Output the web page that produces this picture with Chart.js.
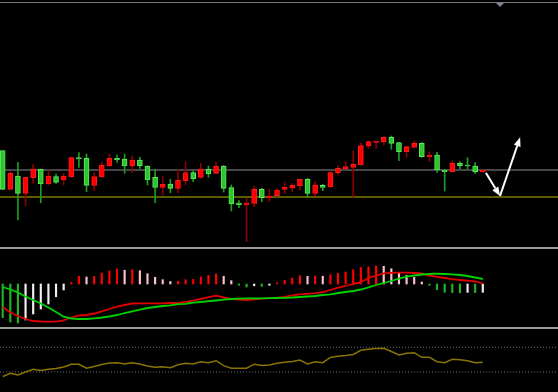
<!DOCTYPE html>
<html><head><meta charset="utf-8">
<script src="https://cdn.jsdelivr.net/npm/chart.js@4"></script>
<style>
html,body{margin:0;padding:0;background:#000;width:558px;height:392px;overflow:hidden;}
.p{position:absolute;left:0;width:558px;}
.sep{position:absolute;left:0;width:558px;height:2px;background:#9a9a9a;}
.mark{position:absolute;left:496px;top:3px;width:0;height:0;border-left:4px solid transparent;border-right:4px solid transparent;border-top:4px solid #7b8794;}
</style></head><body>
<div class="sep" style="top:2px;height:1px;background:#777"></div>
<div class="mark"></div>
<div class="p" style="top:4px;height:242px"><canvas id="main"></canvas></div>
<div class="sep" style="top:247px"></div>
<div class="p" style="top:249px;height:77px"><canvas id="macd"></canvas></div>
<div class="sep" style="top:327px"></div>
<div class="p" style="top:329px;height:63px"><canvas id="osc"></canvas></div>
<script>
// ---- price candles (arbitrary price units) ----
const open  = [99.3,60.7,74,56.7,72.3,80.7,66,73.3,70,73.3,92.3,91.7,64.7,73,84.3,91.7,91,84,90,84,72.7,62.7,66,61.7,69.3,77.3,72.7,81,76.7,84,62.3,47,45.3,46.7,60.7,52.3,54.3,60.7,62,64.3,70.7,56.7,64.7,63,77.3,81,82.7,85,104,107.7,108.3,112.7,107.3,98.3,102.7,106.7,93.3,95,80,78.3,86.7,85,84,78.3];
const high  = [99.3,78,87.7,73,85.7,81,80,76,76.7,93,97.3,96,77.3,88,96,95,96,94,92.7,84.3,80.7,73.3,70.7,80.7,88.3,79.3,86.7,84,88,84.7,65,49.3,51.7,64,61.7,61,61.7,68.3,66.7,70.7,71.7,68.3,65.7,78.3,84.3,88.3,99,106.7,109.3,109,113.3,114,107.3,103.3,109,107.3,98.3,97.7,80.7,89.3,88.3,92.3,87.3,80];
const low   = [60.7,60,30,44,66.7,47.3,65,66.7,65,73,82.7,58.3,59.3,72.7,84,87.7,76.7,77.3,81.7,65,47.3,55,57.3,57.3,65,68.3,71.7,72.7,76.7,58,39,42.3,8.3,43.3,48.3,48.3,53.3,56.7,58,60,52.3,54,59.3,63,75,80.7,53,85,101.7,101.7,105,100.7,89.3,92.7,102.7,92.7,88.3,77.7,59,77.7,81,81,76.7,77.3];
const close = [60.7,76.7,56.7,72.7,80.7,66,74,67.7,74,92.3,91,64.7,73.3,84.7,91.7,90.3,84,90,84,70,62.7,65.7,61.7,70,77.3,71.3,81,76,84,61.7,46,45.3,47,60.7,52.3,54,60,62.7,64.7,70.7,56.7,65,62.7,77.3,81.7,83.3,85.7,104.3,108.3,109,112.7,106.7,98.3,103.3,106.7,93.3,95,80,78.3,86.7,84.3,84,78.3,80];
const levelGrey = 80, levelYellow = 53;
const arrowX = [63.4, 65.26, 67.9];
const arrowY = [77.3, 54, 112.7];
// ---- MACD panel ----
const macdHist = [-33.7,-38,-39,-36,-30,-25,-20,-12.7,-6,1.5,7.6,7,7.6,11,13,15,13.8,14.3,13.3,10.3,6.7,4.3,2.5,2.8,4.3,4.6,7,8.5,10,7.7,3.3,-1.3,-3,-1.8,-2.3,-1.3,1.2,3.7,6,8.3,7.7,8,7.8,9.3,10.7,12,14.3,16.5,17,18,17.7,15.3,11,8.7,6.7,2,-1.3,-5.7,-8.3,-8.5,-8.8,-8.4,-8.6,-8.3];
const macdMain = [-23,-28.5,-32,-35,-37,-37.5,-37.7,-37.7,-36.3,-33.5,-31.5,-31,-29.5,-27.3,-25,-22.7,-21,-19.5,-19.3,-19.3,-19.3,-19.3,-19,-19,-18,-16.7,-15,-13.2,-11.7,-13.5,-15,-15.7,-16,-15.3,-14.7,-14.2,-13.7,-12.8,-11.3,-10.3,-9.7,-9.3,-8,-6,-3.7,-2,0,1.8,6,8.5,10.7,11.2,11.3,11.3,11,10.7,8.5,7.2,6,4.8,4,3.3,2.7,0.7];
const macdSignal = [-3,-5.5,-8.5,-12.5,-16,-19.5,-23.5,-28,-32.7,-34.5,-35,-35,-34.3,-33.5,-32.5,-31,-29,-27.3,-25.7,-24,-23,-22,-21.3,-20.2,-19.8,-18.7,-18,-17.2,-16.5,-15.7,-15,-14.7,-14.3,-14.3,-14.3,-14.2,-14,-13.8,-13.5,-13,-12.5,-12,-11,-10.3,-9,-8,-7,-5.5,-3.3,-1,1,3,5.5,7.3,8.5,9.5,10,10.3,10,9.7,9,8,6.5,5];
// ---- oscillator panel ----
const osc = [22.7,27.9,25.1,30,34.4,32.4,34.4,35.7,38.1,42.5,42.5,36,38.9,42.1,44.6,45.1,43,45.1,43,39.7,37.6,38.6,37,41.8,44.1,43,46.7,45.1,48.3,40.2,36,36,36,42.6,40.5,41.3,44.1,45.7,47,49.4,43,46.7,45.1,53.5,55.4,56.7,58.3,65.1,66.9,68,68.4,63.2,57.5,60.3,61.2,53.8,53.8,46.7,45.1,50.6,49.8,48.3,45.1,45.7];
const oscLevels = [70, 30];

const X_MIN = -0.354, X_MAX = 72.87;
const idx = open.map((_, i) => i);
const UP = '#ff0000', UP_EDGE = '#ff1a1a', UP_WICK = '#8c0000';
const DN = '#2ec42e', DN_EDGE = '#5ee85e', DN_WICK = '#1e9e1e';
const isUp = i => close[i] >= open[i];

function baseOpts(ymin, ymax) {
  return {
    responsive: true, maintainAspectRatio: false, animation: false, events: [],
    layout: {padding: 0},
    plugins: {legend: {display: false}, tooltip: {enabled: false}},
    scales: {
      x: {type: 'linear', min: X_MIN, max: X_MAX, offset: false, display: false},
      y: {type: 'linear', min: ymin, max: ymax, offset: false, display: false}
    }
  };
}

function hline(chart, v, color, width, dash) {
  const {ctx, chartArea: a, scales: {y}} = chart;
  const py = y.getPixelForValue(v);
  ctx.save();
  ctx.strokeStyle = color; ctx.lineWidth = width;
  ctx.setLineDash(dash || []);
  ctx.beginPath(); ctx.moveTo(a.left, py); ctx.lineTo(a.right, py); ctx.stroke();
  ctx.restore();
}

function arrow(ctx, p, q) {
  const ang = Math.atan2(q[1] - p[1], q[0] - p[0]);
  const L = 9, W = 3.5;
  const bx = q[0] - L * Math.cos(ang), by = q[1] - L * Math.sin(ang);
  ctx.beginPath(); ctx.moveTo(p[0], p[1]); ctx.lineTo(bx, by); ctx.stroke();
  ctx.beginPath();
  ctx.moveTo(q[0], q[1]);
  ctx.lineTo(bx + W * Math.sin(ang), by - W * Math.cos(ang));
  ctx.lineTo(bx - W * Math.sin(ang), by + W * Math.cos(ang));
  ctx.closePath(); ctx.fill();
}

const mainLevels = {
  id: 'mainLevels',
  beforeDatasetsDraw(chart) {
    hline(chart, levelGrey, '#45454a', 2);
    hline(chart, levelYellow, '#7d7d00', 1.5);
  },
  afterDatasetsDraw(chart) {
    const {ctx, scales: {x, y}} = chart;
    const pts = arrowX.map((v, k) => [x.getPixelForValue(v), y.getPixelForValue(arrowY[k])]);
    ctx.save();
    ctx.strokeStyle = '#ffffff'; ctx.fillStyle = '#ffffff'; ctx.lineWidth = 2;
    arrow(ctx, pts[0], pts[1]);
    arrow(ctx, pts[1], pts[2]);
    ctx.restore();
  }
};

new Chart(document.getElementById('main'), {
  type: 'bar',
  data: {datasets: [
    {label: 'body', order: 1, grouped: false, barThickness: 5, minBarLength: 1, borderSkipped: false,
     data: idx.map(i => ({x: i, y: [open[i], close[i]]})),
     backgroundColor: idx.map(i => isUp(i) ? UP : DN),
     borderColor: idx.map(i => isUp(i) ? UP_EDGE : DN_EDGE), borderWidth: 1},
    {label: 'wick', order: 2, grouped: false, barThickness: 1, borderSkipped: false,
     data: idx.map(i => ({x: i, y: [low[i], high[i]]})),
     backgroundColor: idx.map(i => isUp(i) ? UP_WICK : DN_WICK), borderWidth: 0}
  ]},
  options: baseOpts(4, 246),
  plugins: [mainLevels]
});

function histColor(i) {
  const v = macdHist[i], p = i > 0 ? macdHist[i - 1] : v;
  if (v >= 0) return v >= p ? '#ff0000' : '#ffc0cb';
  return v <= p ? '#22b322' : '#f0f0f0';
}

new Chart(document.getElementById('macd'), {
  type: 'bar',
  data: {datasets: [
    {type: 'line', label: 'signal', order: 1, data: idx.map(i => ({x: i, y: macdSignal[i]})),
     borderColor: '#00d200', borderWidth: 1.8, pointRadius: 0, tension: 0},
    {type: 'line', label: 'macd', order: 2, data: idx.map(i => ({x: i, y: macdMain[i]})),
     borderColor: '#e00000', borderWidth: 1.8, pointRadius: 0, tension: 0},
    {label: 'hist', order: 3, grouped: false, barThickness: 1.5, borderSkipped: false,
     data: idx.map(i => ({x: i, y: [0, macdHist[i]]})),
     backgroundColor: idx.map(histColor), borderWidth: 0}
  ]},
  options: baseOpts(-42, 35)
});

const oscLevelsPlugin = {
  id: 'oscLevels',
  beforeDatasetsDraw(chart) {
    oscLevels.forEach(v => hline(chart, v, '#6e6e6e', 1, [1, 2]));
  }
};

new Chart(document.getElementById('osc'), {
  type: 'line',
  data: {datasets: [
    {label: 'osc', data: idx.map(i => ({x: i, y: osc[i]})),
     borderColor: '#8a7400', borderWidth: 1.5, pointRadius: 0, tension: 0}
  ]},
  options: baseOpts(-2.4, 99.6),
  plugins: [oscLevelsPlugin]
});
</script>
</body></html>
